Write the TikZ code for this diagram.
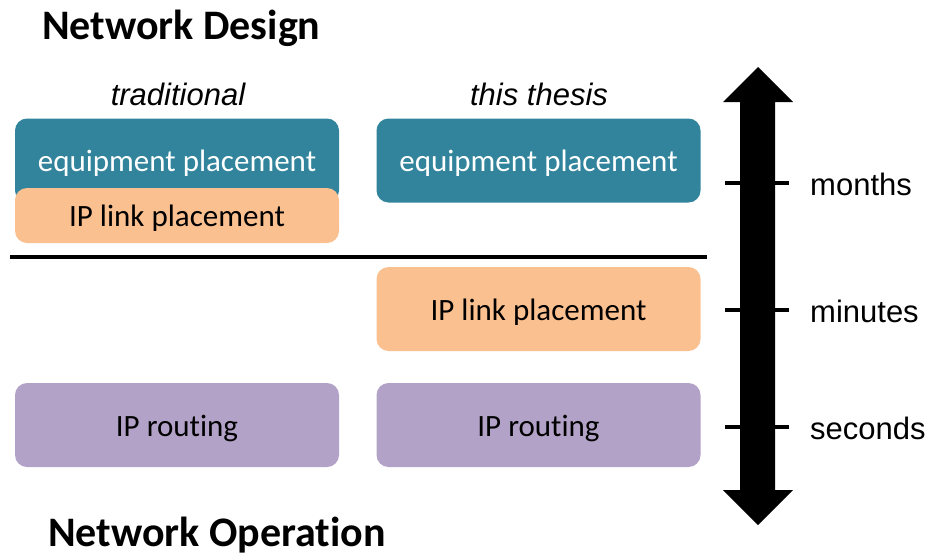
\documentclass[tikz,border=0pt]{standalone}
\usepackage{fontspec}
\setmainfont{Carlito}[Ligatures=CommonOff]
\newfontfamily\arialfont{Liberation Sans}
\definecolor{tealbox}{HTML}{31849B}
\definecolor{orangebox}{HTML}{FAC090}
\definecolor{purplebox}{HTML}{B3A2C7}
\tikzset{
  stagebox/.style={rounded corners=12pt, minimum width=324pt, minimum height=84pt,
    inner sep=0pt, text height=25pt, text depth=3pt, font=\fontsize{31}{37}\selectfont},
  equipbox/.style={stagebox, fill=tealbox, text=white},
  linkbox/.style={stagebox, fill=orangebox, text=black},
  routebox/.style={stagebox, fill=purplebox, text=black},
  heading/.style={font=\fontsize{42}{50}\selectfont\bfseries, anchor=base west, inner sep=0pt},
  column/.style={font=\arialfont\itshape\fontsize{31}{37}\selectfont, anchor=base, inner sep=0pt},
  scale label/.style={font=\arialfont\fontsize{31}{37}\selectfont, anchor=west, inner sep=0pt},
  tick/.style={line width=4pt},
}
\begin{document}
\begin{tikzpicture}[x=1pt, y=-1pt]
\useasboundingbox (0,0) rectangle (929,555);

% headings
\node[heading] (design) at (42,39) {Network Design};
\node[heading] (operation) at (48,546) {Network Operation};
\node[column] (trad) at (178,105) {traditional};
\node[column] (thesis) at (539,105) {this thesis};

% traditional column
\node[equipbox] (tEquip) at (177,160.5) {equipment placement};
\node[linkbox, minimum height=55pt] (tLink) at (177,215.5) {IP link placement};
\node[routebox] (tRoute) at (177,425) {IP routing};

% this thesis column
\node[equipbox] (sEquip) at (538.5,160.5) {equipment placement};
\node[linkbox] (sLink) at (538.5,309) {IP link placement};
\node[routebox] (sRoute) at (538.5,425) {IP routing};

% boundary between design and operation
\coordinate (sepL) at (10,257);
\coordinate (sepR) at (707,257);
\draw[line width=4pt] (sepL) -- (sepR);

% double-headed time-scale arrow
\fill (758,67) -- (793,102) -- (775,102) -- (775,490) -- (793,490)
      -- (758,525) -- (723,490) -- (740,490) -- (740,102) -- (723,102) -- cycle;

% ticks and time-scale labels
\coordinate (m1) at (725,183); \coordinate (m2) at (789,183);
\coordinate (n1) at (725,310); \coordinate (n2) at (789,310);
\coordinate (s1) at (725,427); \coordinate (s2) at (789,427);
\draw[tick] (m1) -- (m2);
\draw[tick] (n1) -- (n2);
\draw[tick] (s1) -- (s2);
\node[scale label] (months) at (810,184) {months};
\node[scale label] (minutes) at (810,311) {minutes};
\node[scale label] (seconds) at (810,428) {seconds};
\end{tikzpicture}
\end{document}
